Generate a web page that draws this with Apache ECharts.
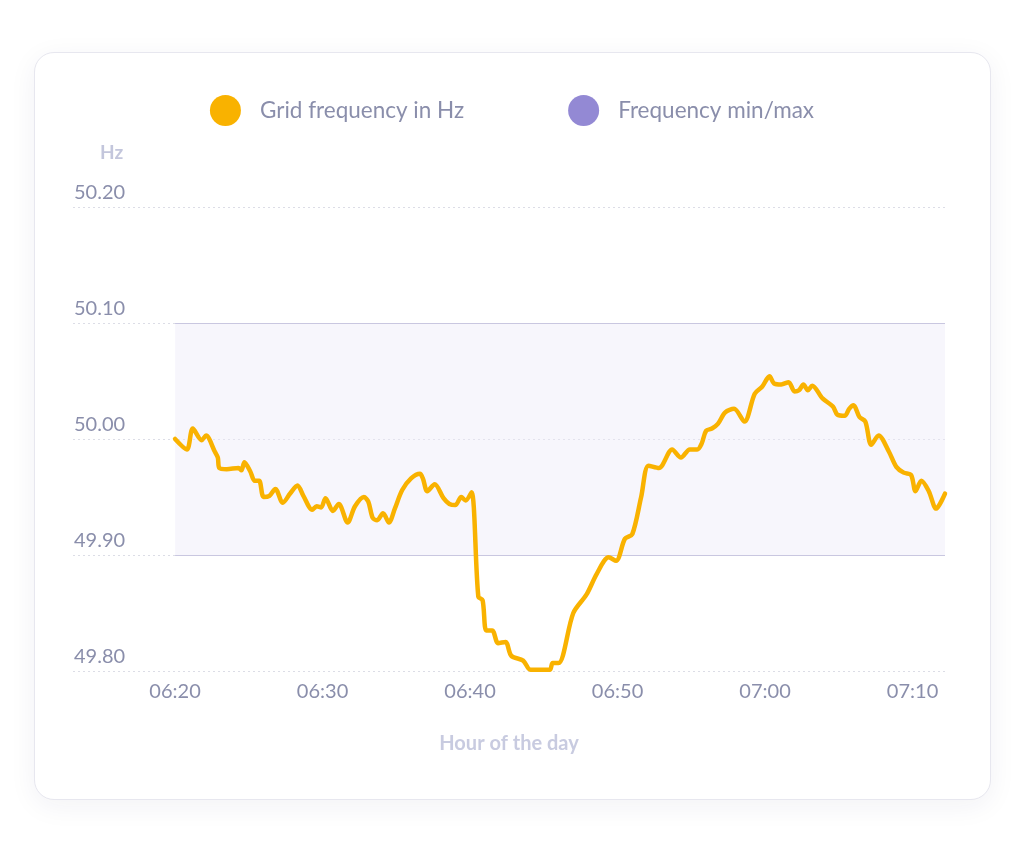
<!DOCTYPE html>
<html>
<head>
<meta charset="utf-8">
<script src="https://cdn.jsdelivr.net/npm/echarts@6/dist/echarts.min.js"></script>
<style>
  html, body { margin: 0; padding: 0; background: #ffffff; }
  #card {
    position: absolute; left: 34px; top: 52px; width: 955px; height: 746px;
    border: 1px solid #e7e7ef; border-radius: 20px; background: #fff;
    box-shadow: 0 6px 28px rgba(40, 40, 80, 0.06);
  }
  #chart { position: absolute; left: 0; top: 0; width: 1024px; height: 853px; }
</style>
</head>
<body>
<div id="card"></div>
<div id="chart"></div>
<script>
// minutes after 06:00
var times = [20, 20.8, 21.2, 21.8, 22.1, 22.7, 22.9, 23.0, 23.5, 24.3, 24.5, 24.7, 25.1, 25.4, 25.7,
  26.0, 26.4, 26.8, 27.3, 27.8, 28.3, 28.7, 29.3, 29.6, 29.9, 30.2, 30.7, 31.1, 31.7, 32.2,
  32.8, 33.1, 33.4, 33.7, 34.1, 34.5, 34.9, 35.4, 36.0, 36.6, 36.8, 37.1, 37.6, 38.2, 38.6,
  39.0, 39.4, 39.7, 40.1, 40.56, 40.85, 41.1, 41.5, 41.9, 42.4, 42.8, 43.6, 44.1, 45.4, 45.6,
  46.0, 47.0, 47.9, 48.6, 49.4, 49.9, 50.5, 51.0, 51.6, 52.1, 52.8, 53.7, 54.3, 54.9, 55.4,
  55.7, 56.0, 56.4, 56.8, 57.3, 57.9, 58.6, 59.3, 59.8, 60.3, 60.6, 61.1, 61.6, 62.0, 62.3,
  62.6, 62.9, 63.2, 63.9, 64.6, 64.9, 65.4, 65.7, 66.0, 66.4, 66.8, 67.2, 67.7, 68.4, 68.9,
  69.4, 69.9, 70.2, 70.6, 71.1, 71.6, 72.2];
var freq = [50.000, 49.991, 50.009, 49.999, 50.003, 49.989, 49.984, 49.975, 49.974, 49.975, 49.973, 49.980, 49.972, 49.964, 49.964,
  49.950, 49.951, 49.957, 49.945, 49.953, 49.960, 49.951, 49.939, 49.942, 49.941, 49.949, 49.938, 49.944, 49.928, 49.942,
  49.950, 49.946, 49.932, 49.930, 49.936, 49.928, 49.940, 49.956, 49.966, 49.970, 49.966, 49.955, 49.961, 49.949, 49.944,
  49.943, 49.950, 49.947, 49.954, 49.864, 49.861, 49.835, 49.835, 49.824, 49.825, 49.813, 49.809, 49.801, 49.801, 49.807,
  49.807, 49.850, 49.866, 49.884, 49.898, 49.895, 49.914, 49.918, 49.950, 49.977, 49.975, 49.991, 49.984, 49.991, 49.991,
  49.996, 50.007, 50.009, 50.013, 50.023, 50.026, 50.015, 50.039, 50.045, 50.054, 50.048, 50.047, 50.049, 50.041, 50.042,
  50.047, 50.042, 50.046, 50.035, 50.028, 50.021, 50.020, 50.026, 50.029, 50.019, 50.015, 49.995, 50.003, 49.989, 49.976,
  49.971, 49.969, 49.955, 49.964, 49.955, 49.940, 49.953];
var freqMin = 49.9;
var freqMax = 50.1;
var xTicks = [20, 30, 40, 50, 60, 70];

var lineData = times.map(function (t, i) { return [t, freq[i]]; });
var xStart = times[0];
var xEnd = times[times.length - 1];

function fmtTime(v) {
  var h = 6 + Math.floor(v / 60);
  var m = Math.round(v % 60);
  return (h < 10 ? '0' : '') + h + ':' + (m < 10 ? '0' : '') + m;
}

var chart = echarts.init(document.getElementById('chart'));
var labelColor = '#8a8eab';
var font = 'Lato';

chart.setOption({
  animation: false,
  textStyle: { fontFamily: font },
  legend: {
    top: 90,
    left: 'center',
    icon: 'circle',
    itemWidth: 31,
    itemHeight: 31,
    itemGap: 104,
    textStyle: { color: labelColor, fontSize: 22.5, fontFamily: font, padding: [0, 0, 0, 14] },
    data: ['Grid frequency in Hz', 'Frequency min/max']
  },
  grid: { left: 73, right: 79, top: 207, bottom: 182 },
  xAxis: {
    type: 'value',
    min: 13.08,
    max: xEnd,
    name: 'Hour of the day',
    nameLocation: 'middle',
    nameGap: 63,
    nameTextStyle: { color: '#c8cbe0', fontSize: 20, fontWeight: 'bold', fontFamily: font },
    axisLine: { show: false },
    axisTick: { show: false },
    splitLine: { show: false },
    axisLabel: {
      customValues: xTicks,
      formatter: fmtTime,
      color: labelColor,
      fontSize: 20,
      margin: 11,
      fontFamily: font
    }
  },
  yAxis: {
    type: 'value',
    min: 49.8,
    max: 50.2,
    interval: 0.1,
    name: 'Hz',
    nameLocation: 'end',
    nameGap: 45,
    nameTextStyle: { color: '#c3c6dc', fontSize: 19, fontWeight: 'bold', align: 'left', padding: [0, 0, 0, 27], fontFamily: font },
    axisLine: { show: false },
    axisTick: { show: false },
    axisLabel: {
      inside: true,
      verticalAlign: 'bottom',
      margin: 1,
      padding: [0, 0, 4, 0],
      color: labelColor,
      fontSize: 20,
      fontFamily: font,
      formatter: function (v) { return v.toFixed(2); }
    },
    splitLine: { lineStyle: { color: '#dcdde6', type: [2, 3], width: 1 } }
  },
  series: [
    {
      name: 'Frequency min/max',
      type: 'line',
      data: [],
      color: '#9389d4',
      markArea: {
        silent: true,
        itemStyle: { color: 'rgba(236, 234, 248, 0.42)' },
        data: [[{ coord: [xStart, freqMin] }, { coord: [xEnd, freqMax] }]]
      },
      markLine: {
        silent: true,
        symbol: 'none',
        label: { show: false },
        lineStyle: { color: '#c9c7e0', type: 'solid', width: 1.2 },
        data: [
          [{ coord: [xStart, freqMax] }, { coord: [xEnd, freqMax] }],
          [{ coord: [xStart, freqMin] }, { coord: [xEnd, freqMin] }]
        ]
      }
    },
    {
      name: 'Grid frequency in Hz',
      type: 'line',
      data: lineData,
      color: '#f9b200',
      smooth: 0.3,
      showSymbol: false,
      lineStyle: { width: 4.5, color: '#f9b200', cap: 'round', join: 'round' },
      z: 5
    }
  ]
});
</script>
</body>
</html>
